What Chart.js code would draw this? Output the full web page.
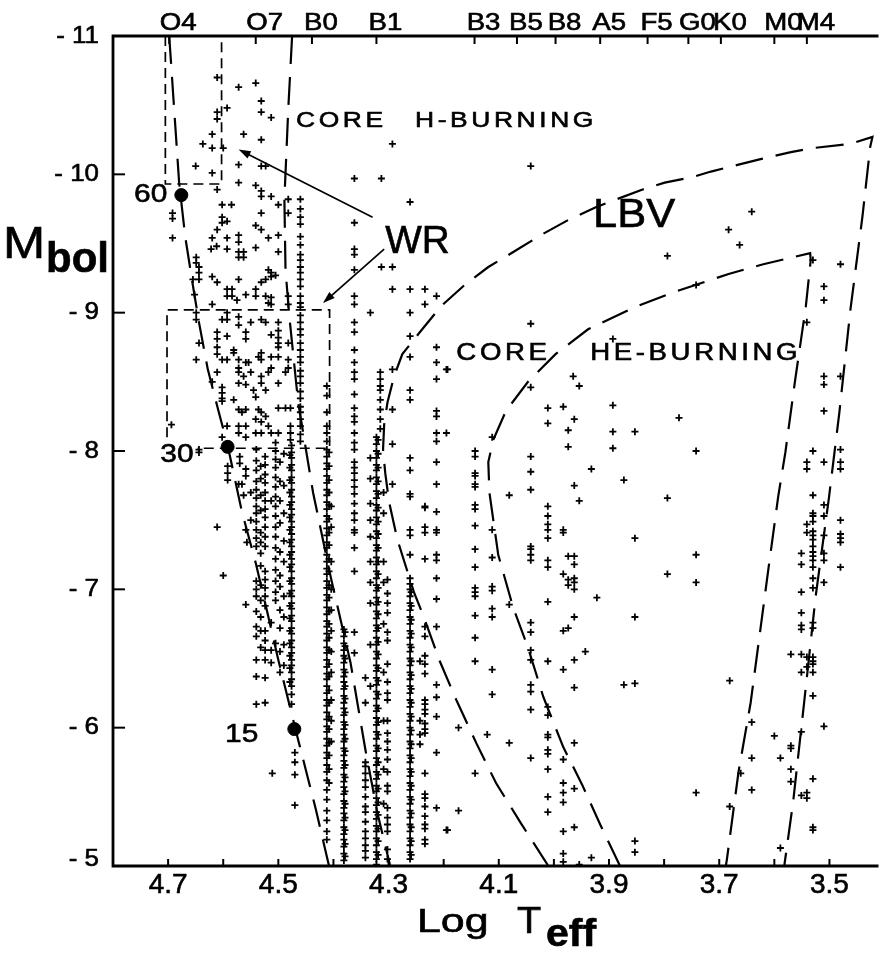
<!DOCTYPE html>
<html>
<head>
<meta charset="utf-8">
<script src="https://cdn.jsdelivr.net/npm/chart.js@4/dist/chart.umd.min.js"></script>
<style>
html,body{margin:0;padding:0;background:#fff;}
canvas{display:block;}
</style>
</head>
<body>
<canvas id="c" width="886" height="953"></canvas>
<script>
// ---------- axis definitions ----------
const xTickValues = [4.7,4.6,4.5,4.4,4.3,4.2,4.1,4.0,3.9,3.8,3.7,3.6,3.5];
const xLabelValues = [4.7,4.5,4.3,4.1,3.9,3.7,3.5];
const xTickLabels = ['4.7','4.5','4.3','4.1','3.9','3.7','3.5'];
const yTickValues = [-11,-10,-9,-8,-7,-6,-5];
const yTickLabels = ['- 11','- 10','- 9','- 8','- 7','- 6','- 5'];
const specTypes = ['O4','O7','B0','B1','B3','B5','B8','A5','F5','G0','K0','M0','M4'];
const specLogT  = [4.698,4.541,4.439,4.322,4.144,4.067,3.997,3.916,3.830,3.756,3.697,3.600,3.541];

// ---------- stars: vertical columns (log Teff, list of Mbol) ----------
const columnT = [4.460,4.476,4.479,4.412,4.408,4.404,4.381,4.379,4.362,4.342,4.315,4.322,4.319,4.333,4.309,4.302,4.261,4.259,4.234,4.243,4.213,4.143,4.112,4.042,4.011,3.983,3.974,3.963,3.541,3.530,3.510,3.480,3.551,4.540,4.524,4.505,4.490,4.513,4.550,4.532,4.497];
const columnM = [
 [-9.82,-9.75,-9.69,-9.64,-9.55,-9.49,-9.42,-9.38,-9.33,-9.29,-9.24,-9.19,-9.12,-9.07,-9.04,-8.98,-8.93,-8.88,-8.84,-8.78,-8.73,-8.68,-8.64,-8.58,-8.54,-8.49,-8.43,-8.38,-8.32,-8.28,-8.23,-8.18,-8.12,-8.07],
 [-8.04,-7.99,-7.95,-7.90,-7.86,-7.81,-7.77,-7.72,-7.67,-7.63,-7.58,-7.54,-7.49,-7.45,-7.40,-7.36,-7.31,-7.27,-7.22,-7.18,-7.13,-7.08,-7.04,-6.99,-6.95,-6.90,-6.86,-6.81,-6.77,-6.72,-6.68,-6.63,-6.58,-6.54,-6.49,-6.45,-6.40,-6.35,-6.30,-6.24,-6.17],
 [-7.97,-7.88,-7.79,-7.70,-7.61,-7.52,-7.43,-7.34,-7.25,-7.16,-7.06,-6.97,-6.88,-6.79,-6.70,-6.61,-6.52,-6.43,-6.33],
 [-8.47,-8.40,-8.28,-8.18,-8.13,-8.07,-8.01,-7.96,-7.91,-7.87,-7.82,-7.77,-7.72,-7.68,-7.63,-7.58,-7.53,-7.49,-7.44,-7.39,-7.34,-7.30,-7.25,-7.20,-7.15,-7.11,-7.06,-7.01,-6.96,-6.92,-6.87,-6.82,-6.77,-6.73,-6.68,-6.63,-6.58,-6.54,-6.49,-6.44,-6.39,-6.35,-6.30,-6.25,-6.20,-6.16,-6.11,-6.06,-6.01,-5.97,-5.92,-5.87,-5.82,-5.78,-5.73,-5.68,-5.62,-5.55,-5.48,-5.40,-5.33,-5.25,-5.19],
 [-7.99,-7.89,-7.79,-7.70,-7.61,-7.51,-7.41,-7.32,-7.22,-7.13,-7.03,-6.94,-6.84,-6.75,-6.65,-6.56,-6.46,-6.37,-6.27,-6.18,-6.08,-5.99,-5.89,-5.80,-5.70,-5.60],
 [-7.60,-7.45,-7.20,-7.00,-6.85,-6.70,-6.55,-6.40,-6.20,-6.05,-5.90],
 [-6.71,-6.66,-6.61,-6.56,-6.52,-6.47,-6.42,-6.37,-6.33,-6.28,-6.23,-6.18,-6.14,-6.09,-6.04,-5.99,-5.95,-5.90,-5.85,-5.80,-5.76,-5.71,-5.66,-5.61,-5.57,-5.52,-5.47,-5.42,-5.38,-5.33,-5.28,-5.23,-5.19,-5.14,-5.09,-5.04],
 [-6.69,-6.59,-6.50,-6.40,-6.30,-6.21,-6.11,-6.02,-5.92,-5.83,-5.73,-5.64,-5.54,-5.45,-5.35,-5.26,-5.16,-5.07],
 [-9.65,-9.46,-9.42,-9.31,-9.12,-9.06,-8.93,-8.86,-8.73,-8.64,-8.57,-8.52,-8.41,-8.31,-8.25,-8.21,-8.13,-8.06,-8.01,-7.92,-7.88,-7.84,-7.79,-7.74,-7.69,-7.62,-7.55,-7.50,-7.43,-7.41,-7.30,-7.13,-6.69,-6.54],
 [-6.36,-6.18,-5.75,-5.72,-5.67,-5.62,-5.57,-5.50,-5.43,-5.39,-5.32,-5.25,-5.20,-5.15,-5.11,-5.06],
 [-8.57,-8.52,-8.47,-8.44,-8.37,-8.30,-8.23,-8.16],
 [-8.10,-8.05,-8.00,-7.95,-7.90,-7.86,-7.81,-7.76,-7.71,-7.66,-7.61,-7.57,-7.52,-7.47,-7.42,-7.37,-7.32,-7.28,-7.23,-7.18,-7.13,-7.08,-7.03,-6.99,-6.94,-6.89,-6.84,-6.79,-6.74,-6.70,-6.65,-6.60,-6.55,-6.50,-6.45,-6.41,-6.36,-6.31,-6.26,-6.21,-6.16,-6.12,-6.07,-6.02,-5.97,-5.92,-5.87,-5.83,-5.78,-5.73,-5.68,-5.63,-5.58,-5.54,-5.49,-5.44,-5.39,-5.34,-5.29,-5.25,-5.20,-5.15,-5.10,-5.05,-5.01],
 [-8.08,-7.98,-7.88,-7.78,-7.69,-7.59,-7.49,-7.40,-7.30,-7.20,-7.11,-7.01,-6.91,-6.82,-6.72,-6.62,-6.53,-6.43,-6.34,-6.24,-6.14,-6.04,-5.95,-5.85,-5.75,-5.66,-5.56,-5.46,-5.37,-5.27,-5.18,-5.08],
 [-7.95,-7.80,-7.62,-7.50,-7.38,-7.20,-7.05,-6.90,-6.60,-6.30],
 [-7.70,-7.55,-7.20,-7.05,-6.75,-6.40,-6.05,-5.70,-5.45],
 [-7.07,-6.97,-6.90,-6.83,-6.69,-6.63,-6.46,-6.33,-6.25,-6.20,-6.05,-5.96,-5.90,-5.84,-5.77,-5.68,-5.58,-5.54,-5.42,-5.35,-5.30,-5.25,-5.12,-5.05],
 [-9.80,-9.17,-9.00,-8.83,-8.68,-8.44,-8.37,-7.95,-7.86,-7.69,-7.67,-7.43,-7.39,-7.25,-7.08,-7.04,-7.00,-6.95,-6.90,-6.85,-6.80,-6.75,-6.70,-6.65,-6.60,-6.55,-6.50,-6.45,-6.40,-6.35,-6.30,-6.25,-6.20,-6.15,-6.10,-6.05,-6.00,-5.95,-5.90,-5.85,-5.80,-5.75,-5.70,-5.65,-5.60,-5.55,-5.50,-5.45,-5.40,-5.35,-5.30,-5.25,-5.20,-5.15,-5.10,-5.05],
 [-6.98,-6.88,-6.78,-6.68,-6.58,-6.48,-6.38,-6.28,-6.18,-6.08,-5.98,-5.88,-5.78,-5.68,-5.58,-5.48,-5.38,-5.28,-5.18,-5.08],
 [-9.17,-9.06,-7.60,-7.59,-7.45,-7.41,-7.22,-6.73,-6.66,-6.52,-6.46,-6.39,-6.20,-6.17,-6.13,-6.10,-6.03,-5.99,-5.96,-5.67,-5.52,-5.49,-5.43,-5.36,-5.30,-5.27,-5.19,-5.16],
 [-6.48,-6.05,-5.95,-5.88],
 [-9.12,-8.75,-8.64,-8.52,-8.29,-8.25,-8.13,-8.07,-7.92,-7.76,-7.56,-7.43,-7.41,-7.25,-7.21,-7.08,-6.93,-6.73,-6.31,-6.22,-6.08,-5.82,-5.42],
 [-8.00,-7.96,-7.84,-7.82,-7.76,-7.74,-7.61,-7.58,-7.46,-7.29,-7.16,-7.01,-6.98,-6.95,-6.81,-6.65,-6.48,-5.67],
 [-8.10,-7.43,-7.23,-7.02,-6.99,-6.86,-6.80,-6.42,-6.24],
 [-10.06,-8.92,-8.46,-7.96,-7.85,-7.72,-7.31,-7.29,-7.25,-7.21,-6.76,-6.69,-6.56,-6.49,-6.31,-6.26,-6.13,-5.78],
 [-8.31,-8.20,-7.60,-7.53,-7.47,-7.43,-7.37,-7.21,-7.16,-6.91,-6.48,-6.15,-6.09,-5.95,-5.93,-5.84,-5.81,-5.70,-5.50,-5.39],
 [-8.32,-7.43,-7.41,-7.11,-6.70,-6.42,-5.77,-5.60,-5.53,-5.46,-5.25,-5.09,-5.03],
 [-8.15,-8.03,-7.24,-7.07,-7.03,-6.72],
 [-8.23,-7.75,-7.24,-7.18,-7.08,-7.05,-7.00,-6.80,-6.49,-6.29,-5.89,-5.56,-5.28],
 [-8.93,-7.92,-7.87,-7.47,-7.41,-6.51,-6.44,-5.53,-5.49],
 [-9.38,-8.00,-7.68,-7.55,-7.53,-7.49,-7.42,-7.39,-7.36,-7.31,-7.27,-7.24,-7.21,-7.16,-7.08,-7.01,-6.76,-6.72,-6.51,-6.48,-6.46,-6.40,-6.23,-5.63,-5.28,-5.26],
 [-9.19,-9.09,-8.54,-8.48,-8.29,-7.92,-7.61,-7.53,-7.39,-7.26,-7.21,-7.05,-6.01],
 [-9.35,-8.54,-8.01,-7.92,-7.87,-7.50,-7.40,-7.37,-7.34,-7.16],
 [-7.26,-7.18,-6.98,-6.83,-6.74,-6.71,-6.53,-6.40,-5.97,-5.51],
 [-8.01,-7.93,-7.86,-7.78,-7.72,-7.66,-7.60,-7.55,-7.49,-7.43,-7.37,-7.31,-7.06,-7.00,-6.95,-6.84,-6.73,-6.66,-6.49,-6.37,-6.17],
 [-7.96,-7.90,-7.83,-7.77,-7.70,-7.64,-7.58,-7.52,-7.45,-7.38,-7.31,-7.13,-7.07,-7.01,-6.95,-6.88,-6.70,-6.63,-6.56,-6.49,-6.36,-6.18],
 [-8.06,-8.00,-7.94,-7.88,-7.81,-7.74,-7.67,-7.60,-7.53,-7.45,-7.38,-7.30,-7.22,-7.14,-7.06,-6.98,-6.92,-6.61],
 [-7.98,-7.75,-7.55,-7.35,-7.20,-6.95,-6.80,-6.60,-6.45],
 [-7.64,-6.76,-6.56,-6.47],
 [-7.70,-7.50],
 [-7.89,-7.80,-7.68,-7.57,-7.41,-7.34,-7.26,-7.17,-7.03,-6.92,-6.80,-6.70,-6.58],
 [-7.92,-7.78,-7.64,-7.48,-7.27,-7.10,-7.02,-6.85,-6.72,-6.55,-6.40]
];

// ---------- stars: scattered individual points [log Teff, Mbol] ----------
const starsUpperLeft = [
 [4.611,-10.70],[4.572,-10.63],[4.541,-10.66],[4.593,-10.48],[4.611,-10.45],[4.611,-10.40],[4.531,-10.53],[4.531,-10.45],[4.513,-10.41],
 [4.563,-10.29],[4.531,-10.25],[4.620,-10.29],[4.637,-10.22],[4.620,-10.19],[4.600,-10.19],[4.293,-10.22],[4.650,-10.06],[4.620,-10.01],
 [4.572,-10.07],[4.572,-9.94],[4.531,-10.06],[4.523,-10.06],[4.362,-9.97],[4.313,-9.97],[4.611,-9.89],[4.541,-9.92],[4.531,-9.88],
 [4.531,-9.84],[4.513,-9.84],[4.500,-9.78],[4.482,-9.82],[4.482,-9.72],[4.602,-9.78],[4.585,-9.78],[4.692,-9.72],[4.692,-9.68],
 [4.692,-9.54],[4.602,-9.69],[4.602,-9.65],[4.593,-9.66],[4.611,-9.60],[4.531,-9.72],[4.541,-9.63],[4.531,-9.60],[4.500,-9.56],
 [4.518,-9.54],[4.593,-9.54],[4.572,-9.56],[4.572,-9.51],[4.620,-9.54],[4.622,-9.46],[4.612,-9.48],[4.593,-9.46],[4.572,-9.44],
 [4.563,-9.44],[4.572,-9.40],[4.563,-9.40],[4.541,-9.47],[4.500,-9.44],[4.649,-9.40],[4.649,-9.36],[4.644,-9.33],[4.644,-9.29],
 [4.655,-9.24],[4.644,-9.24],[4.313,-9.33],[4.293,-9.33],[4.620,-9.26],[4.572,-9.24],[4.518,-9.31],[4.513,-9.29],[4.531,-9.22],
 [4.523,-9.24],[4.513,-9.26],[4.505,-9.27],[4.611,-9.22],[4.593,-9.17],[4.584,-9.17],[4.593,-9.12],[4.584,-9.12],[4.575,-9.09],
 [4.559,-9.13],[4.541,-9.17],[4.541,-9.12],[4.523,-9.12],[4.513,-9.11],[4.518,-9.07],[4.513,-9.06],[4.482,-9.12],[4.482,-9.06],
 [4.652,-9.13],[4.620,-9.06],[4.293,-9.17],[4.333,-9.00]
];
const starsMidLeft = [
 [4.649,-9.00],[4.649,-8.95],[4.593,-9.00],[4.593,-8.95],[4.602,-8.95],[4.572,-8.97],[4.572,-8.91],[4.550,-8.93],[4.531,-8.95],
 [4.523,-8.93],[4.500,-8.93],[4.500,-8.87],[4.500,-8.82],[4.500,-8.78],[4.500,-8.75],[4.513,-8.84],[4.482,-8.78],[4.611,-8.86],
 [4.611,-8.81],[4.611,-8.75],[4.611,-8.70],[4.593,-8.83],[4.644,-8.78],[4.581,-8.73],[4.581,-8.71],[4.559,-8.86],[4.559,-8.81],
 [4.572,-8.66],[4.559,-8.64],[4.554,-8.64],[4.602,-8.66],[4.593,-8.66],[4.531,-8.71],[4.531,-8.66],[4.536,-8.68],[4.513,-8.68],
 [4.500,-8.68],[4.482,-8.66],[4.482,-8.60],[4.487,-8.57],[4.649,-8.66],[4.611,-8.57],[4.572,-8.60],[4.572,-8.57],[4.563,-8.54],
 [4.550,-8.57],[4.513,-8.60],[4.518,-8.57],[4.531,-8.54],[4.620,-8.50],[4.572,-8.49],[4.559,-8.48],[4.531,-8.49],[4.523,-8.44],
 [4.500,-8.49],[4.545,-8.44],[4.541,-8.39],[4.602,-8.46],[4.602,-8.42],[4.602,-8.38],[4.602,-8.36],[4.581,-8.37],[4.572,-8.30],
 [4.566,-8.28],[4.559,-8.30],[4.536,-8.30],[4.531,-8.28],[4.523,-8.25],[4.500,-8.31],[4.487,-8.31],[4.478,-8.31],[4.541,-8.23],
 [4.531,-8.21],[4.518,-8.18],[4.572,-8.18],[4.559,-8.18],[4.593,-8.18],[4.572,-8.13],[4.559,-8.10],[4.541,-8.13],[4.531,-8.13],
 [4.513,-8.13],[4.500,-8.13],[4.478,-8.18],[4.478,-8.13],[4.478,-8.08],[4.694,-8.19],[4.602,-8.10],[4.293,-8.59],[4.293,-8.30],
 [4.293,-8.05],[4.293,-7.76],[4.195,-8.59],[4.195,-8.13]
];
const starsLowLeft = [
 [4.611,-7.45],[4.600,-7.10],[4.559,-6.89],[4.511,-5.67],[4.470,-5.82],[4.470,-5.75],[4.470,-5.66],[4.470,-5.44],[4.563,-7.68],
 [4.559,-7.43],[4.557,-7.34],[4.572,-7.76],[4.566,-7.76],[4.592,-7.89],[4.592,-7.84],[4.592,-7.79],[4.570,-7.96],[4.570,-7.91],
 [4.559,-7.87],[4.559,-7.82],[4.644,-8.01],[4.644,-7.99],[4.173,-6.00],[4.173,-5.40],[4.193,-5.26],[4.121,-5.95],[4.081,-7.68],
 [4.081,-6.89],[4.081,-5.89],[4.195,-5.26]
];
const starsRight = [
 [3.641,-9.73],[3.683,-9.60],[3.663,-9.49],[3.794,-9.41],[3.742,-9.20],[3.893,-8.81],[4.193,-8.59],[3.965,-8.54],[3.954,-8.47],
 [3.893,-8.33],[3.893,-8.14],[3.853,-8.14],[3.893,-8.02],[3.773,-8.24],[3.742,-8.00],[3.932,-7.87],[3.954,-7.64],[3.922,-6.94],
 [3.873,-7.79],[3.853,-7.37],[3.853,-6.80],[3.873,-6.31],[3.853,-6.32],[3.794,-7.66],[3.794,-7.11],[3.742,-7.25],[3.742,-7.05],
 [3.681,-6.34],[3.742,-5.53],[3.943,-6.55],[3.932,-5.06],[3.853,-5.18],[3.853,-5.10],[3.954,-5.01],[3.641,-6.04],[3.641,-5.78],
 [3.641,-5.55],[3.661,-5.67],[3.681,-5.43],[3.600,-5.94],[3.589,-5.78],[3.570,-5.87],[3.570,-5.85],[3.570,-5.70],[3.570,-5.61],
 [3.589,-5.13],[3.570,-6.53]
];

// ---------- evolutionary boundaries [log Teff, Mbol] ----------
const zamsLine = [[4.698,-11.0],[4.680,-9.94],[4.669,-9.55],[4.656,-9.22],[4.644,-8.93],[4.628,-8.59],[4.608,-8.28],[4.592,-8.04],[4.566,-7.56],[4.541,-7.19],[4.518,-6.80],[4.500,-6.49],[4.469,-5.99],[4.432,-5.41],[4.408,-5.0]];
const hBurnLine = [[4.475,-11.0],[4.482,-10.47],[4.489,-9.82],[4.487,-9.31],[4.480,-8.97],[4.464,-8.35],[4.437,-7.70],[4.405,-7.09],[4.369,-6.47],[4.342,-5.84],[4.320,-5.38],[4.297,-5.0]];
const lbvOuterLine = [[4.010,-5.0],[4.060,-5.31],[4.105,-5.60],[4.141,-5.89],[4.177,-6.20],[4.207,-6.48],[4.236,-6.80],[4.254,-6.98],[4.284,-7.36],[4.299,-7.63],[4.306,-7.84],[4.310,-8.01],[4.308,-8.19],[4.302,-8.35],[4.290,-8.54],[4.275,-8.70],[4.243,-8.86],[4.204,-9.05],[4.162,-9.20],[4.119,-9.33],[4.073,-9.44],[4.024,-9.56],[3.974,-9.67],[3.925,-9.76],[3.886,-9.82],[3.839,-9.89],[3.799,-9.94],[3.749,-9.98],[3.715,-10.02],[3.665,-10.07],[3.625,-10.11],[3.570,-10.16],[3.530,-10.19],[3.462,-10.22],[3.422,-10.27],[3.426,-10.20],[3.440,-9.70],[3.462,-9.02],[3.482,-8.28],[3.501,-7.66],[3.525,-6.95],[3.546,-6.18],[3.566,-5.46],[3.582,-5.0]];
const heBurnLine = [[3.880,-5.0],[3.916,-5.30],[3.949,-5.59],[3.983,-5.86],[4.019,-6.22],[4.047,-6.58],[4.074,-6.87],[4.101,-7.25],[4.117,-7.70],[4.119,-7.92],[4.110,-8.08],[4.087,-8.29],[4.047,-8.50],[3.997,-8.70],[3.938,-8.88],[3.853,-9.04],[3.781,-9.15],[3.683,-9.28],[3.620,-9.35],[3.535,-9.43],[3.534,-9.38],[3.543,-9.04],[3.562,-8.52],[3.580,-7.99],[3.593,-7.67],[3.611,-7.14],[3.627,-6.66],[3.643,-6.18],[3.665,-5.68],[3.686,-5.05],[3.688,-5.0]];
const wrBoxUpper = [[4.705,-11.0],[4.705,-9.93],[4.603,-9.93],[4.603,-11.0]];
const wrBoxLower = [[4.702,-8.10],[4.702,-9.02],[4.407,-9.02],[4.407,-8.02],[4.647,-8.02]];

// ---------- marked initial masses ----------
const massT = [4.676,4.592,4.471];
const massM = [-9.85,-8.03,-5.99];
const massLabels = ['60','30','15'];

// ---------- WR arrows [from, to] ----------
const wrArrows = [[[4.329,-9.69],[4.572,-10.18]],[[4.308,-9.46],[4.419,-9.07]]];

// ---------- build data ----------
const stars = [];
columnT.forEach((t,i)=>columnM[i].forEach(m=>stars.push({x:t,y:m})));
[...starsUpperLeft,...starsMidLeft,...starsLowLeft,...starsRight].forEach(([t,m])=>stars.push({x:t,y:m}));
const toXY = arr => arr.map(([t,m])=>({x:t,y:m}));
const massPts = massT.map((t,i)=>({x:t,y:massM[i]}));

const FONT = '"Liberation Sans", Arial, Helvetica, sans-serif';
const lineDs = (data,dash,w)=>({type:'line',data:toXY(data),showLine:true,borderColor:'#000',borderWidth:w,borderDash:dash,pointRadius:0,fill:false,tension:0,order:2});

function drawText(ctx, s, x, y, font, align, sx, spacing, baseline){
  ctx.save();
  ctx.font = font;
  ctx.letterSpacing = spacing || '0px';
  ctx.textAlign = align || 'left';
  ctx.textBaseline = baseline || 'alphabetic';
  ctx.translate(x, y);
  ctx.scale(sx || 1, 1);
  ctx.fillText(s, 0, 0);
  ctx.lineWidth = 0.6;
  ctx.strokeText(s, 0, 0);
  ctx.restore();
}

const decor = {
  id:'decor',
  afterDraw(chart){
    const ctx = chart.ctx, xs = chart.scales.x, ys = chart.scales.y, a = chart.chartArea;
    ctx.save();
    ctx.fillStyle='#000'; ctx.strokeStyle='#000';
    // frame
    ctx.lineWidth = 2.8;
    ctx.beginPath();
    ctx.moveTo(a.right, a.top); ctx.lineTo(a.left, a.top); ctx.lineTo(a.left, a.bottom); ctx.lineTo(a.right, a.bottom);
    ctx.stroke();
    // ticks
    ctx.lineWidth = 2;
    xTickValues.forEach(v=>{const p=xs.getPixelForValue(v); ctx.beginPath(); ctx.moveTo(p,a.bottom); ctx.lineTo(p,a.bottom-7); ctx.stroke();});
    specLogT.forEach(v=>{const p=xs.getPixelForValue(v); ctx.beginPath(); ctx.moveTo(p,a.top); ctx.lineTo(p,a.top+8); ctx.stroke();});
    yTickValues.forEach(v=>{const p=ys.getPixelForValue(v); ctx.beginPath(); ctx.moveTo(a.left,p); ctx.lineTo(a.left+12,p); ctx.stroke();});
    // tick labels
    xLabelValues.forEach((v,i)=>drawText(ctx, xTickLabels[i], xs.getPixelForValue(v), 885, '28px '+FONT, 'center', 1.0, '0px', 'middle'));
    yTickValues.forEach((v,i)=>{let p=ys.getPixelForValue(v); p=Math.min(Math.max(p,28),859); drawText(ctx, yTickLabels[i], 99, p, '24px '+FONT, 'right', 1.08, '0px', 'middle');});
    specLogT.forEach((v,i)=>drawText(ctx, specTypes[i], xs.getPixelForValue(v)+9, 30, '23px '+FONT, 'center', 1.2));
    // axis titles
    drawText(ctx, 'Log', 417, 932, '33px '+FONT, 'left', 1.3);
    drawText(ctx, 'T', 517, 933, '36px '+FONT, 'left', 1.1);
    drawText(ctx, 'eff', 546, 946, 'bold 38px '+FONT, 'left', 1.08);
    drawText(ctx, 'M', 3, 258, '44px '+FONT, 'left', 1.15);
    drawText(ctx, 'bol', 46, 272, 'bold 42px '+FONT, 'left', 1.0);
    // region labels (anchored in data coordinates)
    const txt = (s,t,m,font,sx,sp)=>drawText(ctx, s, xs.getPixelForValue(t), ys.getPixelForValue(m), font, 'left', sx, sp);
    txt('CORE', 4.468, -10.34, '22px '+FONT, 1.2, '3px');
    txt('H-BURNING', 4.252, -10.34, '22px '+FONT, 1.2, '3px');
    txt('CORE', 4.177, -8.66, '23px '+FONT, 1.2, '3px');
    txt('HE-BURNING', 3.934, -8.66, '23px '+FONT, 1.2, '3px');
    txt('LBV', 3.929, -9.62, '41px '+FONT, 1.06);
    txt('WR', 4.306, -9.43, '38px '+FONT, 1.02);
    // mass labels
    const off = [[-14,7],[-34,15],[-36,13]];
    massPts.forEach((p,i)=>drawText(ctx, massLabels[i], xs.getPixelForValue(p.x)+off[i][0], ys.getPixelForValue(p.y)+off[i][1], '26px '+FONT, 'right', 1.15));
    // arrows
    ctx.lineWidth = 1.7;
    wrArrows.forEach(([f,t])=>{
      const x1=xs.getPixelForValue(f[0]), y1=ys.getPixelForValue(f[1]), x2=xs.getPixelForValue(t[0]), y2=ys.getPixelForValue(t[1]);
      const ang=Math.atan2(y2-y1,x2-x1);
      ctx.beginPath(); ctx.moveTo(x1,y1); ctx.lineTo(x2-Math.cos(ang)*6,y2-Math.sin(ang)*6); ctx.stroke();
      ctx.beginPath(); ctx.moveTo(x2,y2);
      ctx.lineTo(x2-12*Math.cos(ang)+4*Math.sin(ang), y2-12*Math.sin(ang)-4*Math.cos(ang));
      ctx.lineTo(x2-12*Math.cos(ang)-4*Math.sin(ang), y2-12*Math.sin(ang)+4*Math.cos(ang));
      ctx.closePath(); ctx.fill();
    });
    ctx.restore();
  }
};

new Chart(document.getElementById('c'), {
  type:'scatter',
  data:{datasets:[
    {label:'stars',data:stars,pointStyle:'cross',pointRadius:3.5,pointBorderWidth:1.8,borderColor:'#000',backgroundColor:'#000',order:3},
    lineDs(zamsLine,[28,13],2.2),
    lineDs(hBurnLine,[28,13],2.2),
    lineDs(lbvOuterLine,[28,13],2.2),
    lineDs(heBurnLine,[28,13],2.2),
    lineDs(wrBoxUpper,[10,6],1.7),
    lineDs(wrBoxLower,[10,6],1.7),
    {label:'masses',data:massPts,pointStyle:'circle',pointRadius:6.5,backgroundColor:'#000',borderColor:'#000',order:1}
  ]},
  options:{
    responsive:false, animation:false, devicePixelRatio:1,
    layout:{padding:{left:113,top:36,right:0,bottom:87}},
    plugins:{legend:{display:false},tooltip:{enabled:false}},
    scales:{
      x:{type:'linear',display:false,min:3.411,max:4.80,reverse:true},
      y:{type:'linear',display:false,min:-11,max:-5,reverse:true}
    }
  },
  plugins:[decor]
});
</script>
</body>
</html>
